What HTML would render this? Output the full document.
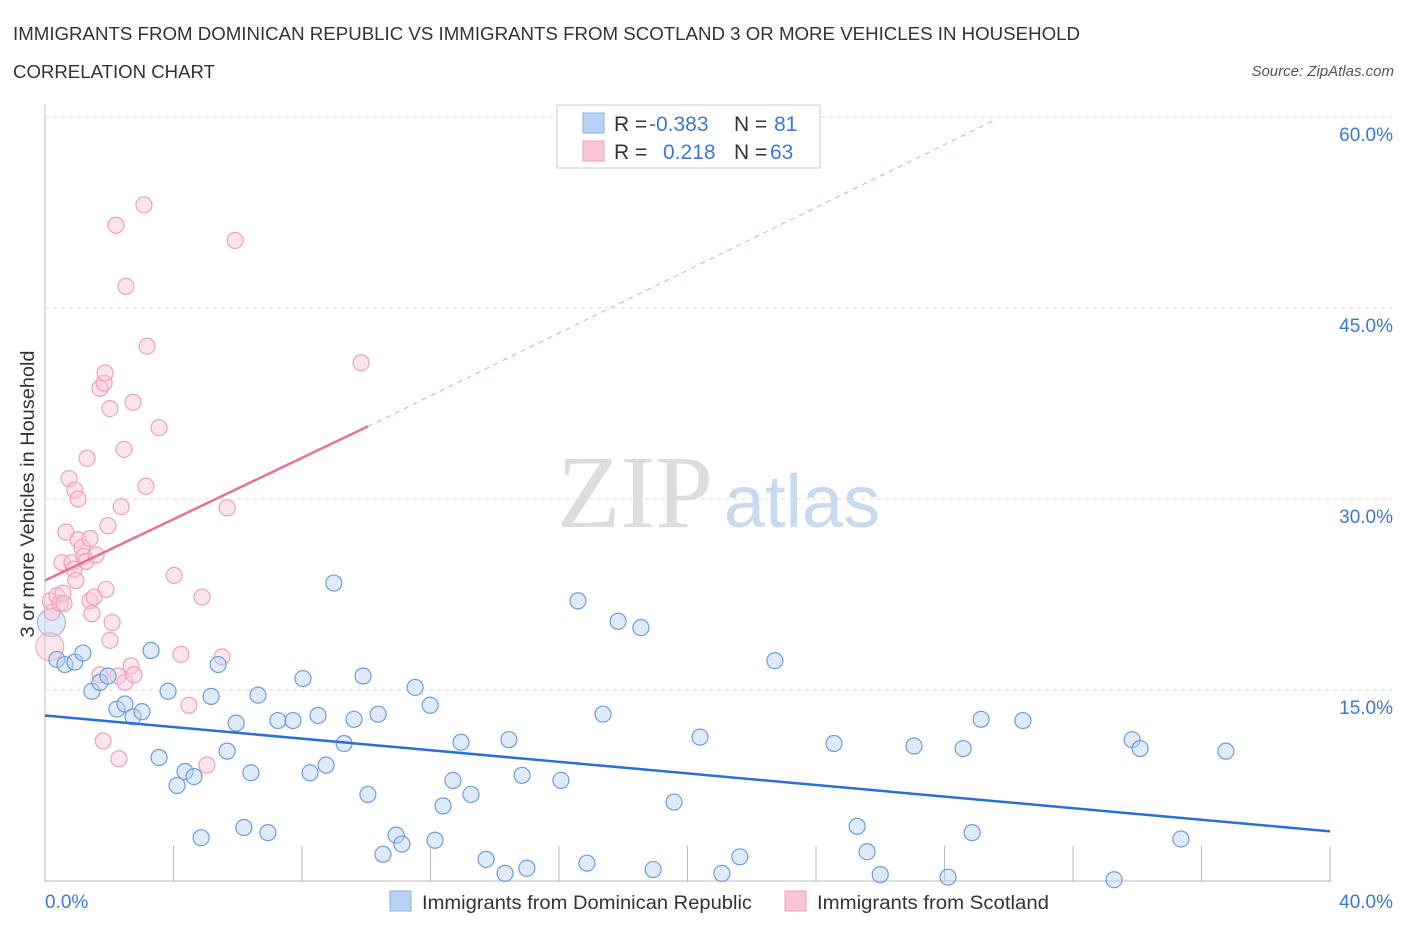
<!DOCTYPE html>
<html><head><meta charset="utf-8"><style>
body{margin:0;background:#fff;font-family:"Liberation Sans",sans-serif;}
svg text{font-family:"Liberation Sans",sans-serif;}
</style></head><body>
<svg id="c" width="1406" height="930" xmlns="http://www.w3.org/2000/svg">
<text x="13" y="40" font-size="18" fill="#333" textLength="1067" lengthAdjust="spacingAndGlyphs">IMMIGRANTS FROM DOMINICAN REPUBLIC VS IMMIGRANTS FROM SCOTLAND 3 OR MORE VEHICLES IN HOUSEHOLD</text>
<text x="13" y="78" font-size="18" fill="#333" textLength="202" lengthAdjust="spacingAndGlyphs">CORRELATION CHART</text>
<text x="1394" y="76" font-size="15" fill="#555" font-style="italic" text-anchor="end">Source: ZipAtlas.com</text>
<text x="635" y="527" font-size="104" fill="#ddd" style="font-family:'Liberation Serif',serif" text-anchor="middle">ZIP</text>
<text x="802" y="527" font-size="74" fill="#c8daf0" text-anchor="middle">atlas</text>
<text transform="translate(34,494) rotate(-90)" font-size="19" fill="#333" text-anchor="middle" textLength="287" lengthAdjust="spacingAndGlyphs">3 or more Vehicles in Household</text>
<g id="grid"></g><g id="pts"></g><g id="lines"></g>
<g>
<rect x="557" y="105" width="263" height="63" fill="#fff" stroke="#ccc"/>
<rect x="583" y="113" width="21" height="20" fill="#b8d2f5" stroke="#8ab0e6"/>
<rect x="583" y="141" width="21" height="20" fill="#fac6d6" stroke="#f0a0b8"/>
<text x="614" y="131" font-size="21" fill="#333">R =</text>
<text x="649" y="131" font-size="21" fill="#3b78d8">-0.383</text>
<text x="734" y="131" font-size="21" fill="#333">N =</text>
<text x="774" y="131" font-size="21" fill="#3b78d8">81</text>
<text x="614" y="159" font-size="21" fill="#333">R =</text>
<text x="663" y="159" font-size="21" fill="#3b78d8">0.218</text>
<text x="734" y="159" font-size="21" fill="#333">N =</text>
<text x="770" y="159" font-size="21" fill="#3b78d8">63</text>
</g>
<g>
<rect x="390" y="891" width="21" height="20" fill="#b8d2f5" stroke="#8ab0e6"/>
<text x="422" y="909" font-size="19.5" fill="#333" textLength="330" lengthAdjust="spacingAndGlyphs">Immigrants from Dominican Republic</text>
<rect x="785" y="891" width="21" height="20" fill="#fac6d6" stroke="#f0a0b8"/>
<text x="817" y="909" font-size="19.5" fill="#333" textLength="232" lengthAdjust="spacingAndGlyphs">Immigrants from Scotland</text>
</g>
</svg>
<script>
const yTicks=[15,30,45,60];
const yTickLabels=["15.0%","30.0%","45.0%","60.0%"];
const xTickLabels=["0.0%","40.0%"];
const blueX=[0.37,0.62,0.93,1.18,1.46,1.71,1.96,2.24,2.49,2.74,3.02,3.3,3.55,3.83,4.11,4.36,4.64,4.86,5.17,5.39,5.67,5.95,6.19,6.41,6.63,6.94,7.25,7.72,8.03,8.25,8.5,8.75,8.99,9.31,9.62,9.9,10.05,10.37,10.52,10.93,11.11,11.52,11.99,12.14,12.39,12.7,12.95,13.26,13.73,14.32,14.44,14.85,15.0,16.06,16.59,16.87,17.37,17.84,18.55,18.93,19.58,20.39,21.07,21.63,22.72,24.56,25.28,25.59,26.0,27.05,28.11,28.58,28.86,29.14,30.44,33.28,33.84,34.09,35.36,36.76];
const blueY=[17.4,17.0,17.2,17.9,14.9,15.6,16.1,13.5,13.9,12.9,13.3,18.1,9.7,14.9,7.5,8.6,8.2,3.4,14.5,17.0,10.2,12.4,4.2,8.5,14.6,3.8,12.6,12.6,15.9,8.5,13.0,9.1,23.4,10.8,12.7,16.1,6.8,13.1,2.1,3.6,2.9,15.2,13.8,3.2,5.9,7.9,10.9,6.8,1.7,0.6,11.1,8.3,1.0,7.9,22.0,1.4,13.1,20.4,19.9,0.9,6.2,11.3,0.6,1.9,17.3,10.8,4.3,2.3,0.5,10.6,0.3,10.4,3.8,12.7,12.6,0.1,11.1,10.4,3.3,10.2];
const pinkX=[0.16,0.22,0.37,0.47,0.56,0.53,0.59,0.65,0.75,0.84,0.93,0.9,0.96,1.03,1.03,1.15,1.21,1.28,1.31,1.4,1.4,1.46,1.53,1.59,1.71,1.71,1.81,1.84,1.87,1.9,1.96,2.02,2.02,2.09,2.21,2.27,2.3,2.37,2.46,2.49,2.52,2.68,2.74,2.77,3.08,3.14,3.18,3.55,4.02,4.23,4.48,4.89,5.04,5.51,5.67,5.92,9.84];
const pinkY=[22.0,21.1,22.4,21.8,22.6,25.0,21.8,27.4,31.6,25.0,30.7,24.5,23.6,30.0,26.8,26.2,25.5,25.1,33.2,26.9,22.0,21.0,22.3,25.6,38.7,16.2,11.0,39.1,39.9,22.9,27.9,37.1,18.9,20.3,51.5,16.1,9.6,29.4,33.9,15.6,46.7,16.9,37.6,16.2,53.1,31.0,42.0,35.6,24.0,17.8,13.8,22.3,9.1,17.6,29.3,50.3,40.7];
const blueLine=[[0,13.0],[40,3.9]];
const pinkLine=[[0,23.6],[10.05,35.7]];
const pinkDash=[[10.05,35.7],[29.6,59.8]];
const X=v=>45+v*32.125, Y=v=>881-v*12.733;
const NS="http://www.w3.org/2000/svg";
function mk(t,a,p){const e=document.createElementNS(NS,t);for(const k in a)e.setAttribute(k,a[k]);p.appendChild(e);return e;}
const g=document.getElementById('grid');
yTicks.forEach((t,i)=>{
 const l=mk('line',{x1:45,x2:1392,y1:Y(t),y2:Y(t),stroke:'#ddd','stroke-dasharray':'4,4'},g);
 
 
 const tx=mk('text',{x:1393,y:Y(t)+24,'font-size':19,fill:'#3b78d8','text-anchor':'end'},g);tx.textContent=yTickLabels[i];
 
 
});
const ax=mk('line',{x1:45,x2:45,y1:105,y2:882,stroke:'#bbb'},g);


const bx=mk('line',{x1:45,x2:1331,y1:881,y2:881,stroke:'#bbb'},g);


for(let i=0;i<=10;i++){mk('line',{x1:X(i*4),x2:X(i*4),y1:846,y2:882,stroke:'#bbb'},g);}
[[0,'start',45],[1,'end',1393]].forEach(([i,a,x])=>{const t=mk('text',{x:x,y:908,'font-size':19,fill:'#3b78d8','text-anchor':a},g);t.textContent=xTickLabels[i];
 
 });
const p=document.getElementById('pts');
mk('circle',{cx:X(0.2),cy:Y(20.3),r:14,fill:'rgba(184,210,245,0.45)',stroke:'#8ab0e6'},p);
mk('circle',{cx:X(0.15),cy:Y(18.4),r:14,fill:'rgba(250,198,214,0.45)',stroke:'#f0a0b8'},p);
pinkX.forEach((v,i)=>{const c=mk('circle',{cx:X(v),cy:Y(pinkY[i]),r:8,fill:'rgba(250,198,214,0.45)',stroke:'#f0a0b8','stroke-width':1.2},p);
 
 });
blueX.forEach((v,i)=>{const c=mk('circle',{cx:X(v),cy:Y(blueY[i]),r:8,fill:'rgba(184,210,245,0.45)',stroke:'#6a9ee0','stroke-width':1.2},p);
 
 });
const L=document.getElementById('lines');
const b=mk('line',{x1:X(blueLine[0][0]),y1:Y(blueLine[0][1]),x2:X(blueLine[1][0]),y2:Y(blueLine[1][1]),stroke:'#2a6fd6','stroke-width':2.5},L);


const pl=mk('line',{x1:X(pinkLine[0][0]),y1:Y(pinkLine[0][1]),x2:X(pinkLine[1][0]),y2:Y(pinkLine[1][1]),stroke:'#e8709a','stroke-width':2.5},L);


const pd=mk('line',{x1:X(pinkDash[0][0]),y1:Y(pinkDash[0][1]),x2:X(pinkDash[1][0]),y2:Y(pinkDash[1][1]),stroke:'#eba0b8','stroke-width':1,'stroke-dasharray':'5,5'},L);


</script>
</body></html>
